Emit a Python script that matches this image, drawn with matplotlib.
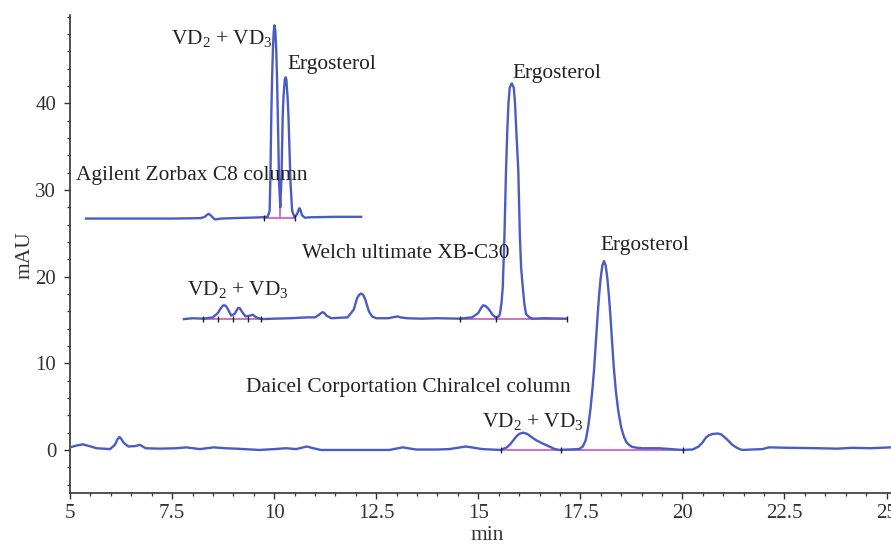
import matplotlib
matplotlib.use("Agg")
import matplotlib.pyplot as plt
from matplotlib.ticker import MultipleLocator, FixedLocator

plt.rcParams['font.family'] = ['Liberation Serif', 'DejaVu Serif']
plt.rcParams['mathtext.fontset'] = 'custom'
plt.rcParams['mathtext.rm'] = 'Liberation Serif'
plt.rcParams['mathtext.it'] = 'Liberation Serif:italic'

# Agilent Zorbax C8 column (offset trace, top)
agilent_t = [5.39, 6.0, 6.8, 7.5, 8.2, 8.30, 8.36, 8.40, 8.44, 8.50, 8.55, 8.7, 9.0, 9.4,
             9.7, 9.84, 9.89, 9.91, 9.93, 9.95, 9.97, 9.99, 10.01, 10.03, 10.05, 10.07,
             10.09, 10.12, 10.15, 10.18, 10.21, 10.23, 10.26, 10.28, 10.30, 10.33, 10.35,
             10.40, 10.44, 10.50, 10.56, 10.60, 10.62, 10.65, 10.68, 10.75, 10.9, 11.5, 12.13]
agilent_v = [26.7, 26.7, 26.7, 26.7, 26.75, 26.9, 27.15, 27.25, 27.1, 26.8, 26.6, 26.7,
             26.75, 26.8, 26.85, 26.9, 27.6, 32.0, 38.6, 43.0, 46.3, 48.3, 49.0, 48.3, 46.3,
             43.0, 38.6, 31.0, 28.0, 31.5, 38.6, 40.8, 42.7, 43.0, 42.7, 40.6, 38.6, 30.9,
             27.6, 26.85, 27.2, 27.7, 27.9, 27.6, 27.1, 26.8, 26.85, 26.9, 26.9]

# Welch ultimate XB-C30 (offset trace, middle)
welch_t = [7.79, 8.0, 8.26, 8.5, 8.62, 8.70, 8.74, 8.78, 8.82, 8.86, 8.95, 9.03, 9.08,
           9.12, 9.16, 9.22, 9.30, 9.40, 9.48, 9.56, 9.69, 10.0, 10.4, 10.8, 11.0, 11.10,
           11.15, 11.19, 11.23, 11.28, 11.40, 11.8, 11.95, 12.03, 12.08, 12.13, 12.18,
           12.23, 12.32, 12.40, 12.5, 12.8, 12.95, 13.03, 13.1, 13.25, 13.6, 14.0, 14.55,
           14.85, 15.0, 15.07, 15.12, 15.18, 15.25, 15.35, 15.43, 15.50, 15.53, 15.57,
           15.60, 15.64, 15.68, 15.71, 15.74, 15.77, 15.82, 15.87, 15.90, 15.935, 15.98,
           16.02, 16.05, 16.09, 16.13, 16.17, 16.25, 16.33, 16.6, 17.17]
welch_v = [15.1, 15.2, 15.15, 15.3, 15.8, 16.4, 16.65, 16.7, 16.6, 16.3, 15.5, 15.7,
           16.1, 16.4, 16.35, 15.9, 15.4, 15.5, 15.6, 15.3, 15.1, 15.15, 15.2, 15.3, 15.3,
           15.6, 15.8, 15.9, 15.8, 15.5, 15.2, 15.3, 16.2, 17.5, 17.9, 18.05, 17.9, 17.4,
           16.0, 15.4, 15.2, 15.2, 15.35, 15.4, 15.3, 15.2, 15.15, 15.2, 15.15, 15.3, 15.8,
           16.4, 16.7, 16.6, 16.3, 15.6, 15.3, 15.4, 15.7, 17.0, 18.8, 24.5, 32.3, 36.8,
           40.0, 41.8, 42.3, 41.8, 40.0, 36.5, 32.3, 24.5, 21.0, 18.8, 16.8, 15.7, 15.3,
           15.15, 15.2, 15.15]

# Daicel Corportation Chiralcel column (bottom)
daicel_t = [5.0, 5.15, 5.31, 5.47, 5.65, 5.98, 6.10, 6.16, 6.21, 6.26, 6.32, 6.43, 6.6,
            6.71, 6.85, 7.2, 7.6, 7.85, 8.18, 8.52, 8.8, 9.07, 9.64, 10.0, 10.29, 10.54,
            10.80, 11.0, 11.15, 12.09, 12.82, 13.15, 13.48, 14.0, 14.29, 14.70, 15.10,
            15.55, 15.70, 15.77, 15.84, 15.92, 16.00, 16.10, 16.20, 16.30, 16.41, 16.55,
            16.74, 16.85, 16.98, 17.2, 17.47, 17.56, 17.63, 17.69, 17.75, 17.80, 17.84,
            17.88, 17.92, 17.96, 18.00, 18.04, 18.08, 18.12, 18.16, 18.20, 18.24, 18.28,
            18.32, 18.37, 18.43, 18.50, 18.57, 18.63, 18.69, 18.77, 18.9, 19.02, 19.43,
            20.0, 20.25, 20.4, 20.5, 20.57, 20.65, 20.75, 20.86, 20.95, 21.05, 21.14,
            21.22, 21.30, 21.40, 21.47, 21.7, 21.96, 22.12, 22.6, 23.34, 23.8, 24.15,
            24.6, 25.11]
daicel_v = [0.3, 0.5, 0.65, 0.45, 0.2, 0.1, 0.6, 1.2, 1.5, 1.25, 0.8, 0.4, 0.45, 0.6,
            0.2, 0.15, 0.2, 0.3, 0.1, 0.3, 0.2, 0.15, 0.0, 0.1, 0.2, 0.1, 0.4, 0.15, 0.0,
            0.0, 0.0, 0.3, 0.05, 0.05, 0.1, 0.4, 0.1, 0.0, 0.3, 0.6, 1.0, 1.5, 1.85, 2.0,
            1.85, 1.5, 1.15, 0.8, 0.4, 0.15, 0.0, 0.05, 0.1, 0.4, 1.1, 2.6, 4.8, 7.2, 9.5,
            12.4, 15.3, 17.9, 19.9, 21.3, 21.8, 21.3, 19.9, 17.8, 15.3, 12.3, 9.5, 6.8,
            4.5, 2.6, 1.5, 0.9, 0.6, 0.35, 0.25, 0.2, 0.2, 0.0, 0.05, 0.4, 0.9, 1.4, 1.7,
            1.85, 1.9, 1.8, 1.4, 1.0, 0.6, 0.35, 0.1, 0.0, 0.05, 0.1, 0.3, 0.25, 0.2,
            0.15, 0.25, 0.2, 0.3]

# integration baselines (start, end, level) and marks
agilent_base = (9.74, 10.50, 26.75)
agilent_split = (10.15, 28.0)
agilent_marks = [9.74, 10.50]
welch_bases = [(8.26, 9.69, 15.15), (14.55, 17.17, 15.15)]
welch_marks = [8.26, 8.63, 9.00, 9.37, 9.69, 14.55, 15.43, 17.17]
daicel_base = (15.55, 20.02, 0.0)
daicel_marks = [15.55, 17.02, 20.02]

vd_label = r'VD$_2$ + VD$_3$'
labels = [
    ('Agilent Zorbax C8 column', 5.15, 31.15),
    (vd_label, 7.47, 46.9),
    ('Ergosterol', 10.33, 44.0),
    ('Welch ultimate XB-C30', 10.67, 22.2),
    (vd_label, 7.87, 17.9),
    ('Ergosterol', 15.83, 42.9),
    ('Daicel Corportation Chiralcel column', 9.31, 6.73),
    (vd_label, 15.08, 2.69),
    ('Ergosterol', 17.98, 23.1),
]

blue = '#4a5cc4'
pink = '#d070c8'

fig = plt.figure(figsize=(8.91, 5.44), dpi=100)
ax = fig.add_axes([0.0786, 0.0932, 0.9214, 0.8794])

for (a, b, lv) in [agilent_base] + welch_bases + [daicel_base]:
    ax.plot([a, b], [lv, lv], color=pink, lw=1.4, zorder=2)
ax.plot([agilent_split[0]] * 2, [agilent_base[2], agilent_split[1]], color=pink, lw=1.4, zorder=2)

for t, v in [(agilent_t, agilent_v), (welch_t, welch_v), (daicel_t, daicel_v)]:
    ax.plot(t, v, color=blue, lw=1.7, zorder=3, solid_joinstyle='round')

ax.plot(agilent_marks, [agilent_base[2]] * len(agilent_marks), ls='none', marker='|',
        color='#222222', ms=4, mew=1, zorder=4)
ax.plot(welch_marks, [15.15] * len(welch_marks), ls='none', marker='|',
        color='#222222', ms=4, mew=1, zorder=4)
ax.plot(daicel_marks, [0.0] * len(daicel_marks), ls='none', marker='|',
        color='#222222', ms=4, mew=1, zorder=4)

for txt, tx, ty in labels:
    ax.text(tx, ty, txt, fontsize=15.4, color='#222222', ha='left', va='baseline', zorder=5)

ax.set_xlim(5, 25.11)
ax.set_ylim(-5, 50.2)
ax.xaxis.set_major_locator(MultipleLocator(2.5))
ax.xaxis.set_minor_locator(MultipleLocator(0.5))
ax.yaxis.set_major_locator(FixedLocator([0, 10, 20, 30, 40]))
ax.yaxis.set_minor_locator(MultipleLocator(2))
ax.xaxis.set_major_formatter(plt.FuncFormatter(lambda v, p: ('%g' % v)))

for s in ['top', 'right']:
    ax.spines[s].set_visible(False)
for s in ['left', 'bottom']:
    ax.spines[s].set_color('#333333')
    ax.spines[s].set_linewidth(1.2)
ax.tick_params(which='major', length=4, width=1, color='#333333', labelsize=15,
               labelcolor='#333333')
ax.tick_params(which='minor', length=2.5, width=0.9, color='#333333')
ax.tick_params(axis='y', pad=6)
ax.tick_params(axis='x', pad=4)

ax.set_xlabel('min', fontsize=15.5, color='#333333')
ax.set_ylabel('mAU', fontsize=15.5, color='#333333')
ax.xaxis.set_label_coords(0.508, -0.068)
ax.yaxis.set_label_coords(-0.043, 0.498)

fig.savefig('out.png', dpi=100)
